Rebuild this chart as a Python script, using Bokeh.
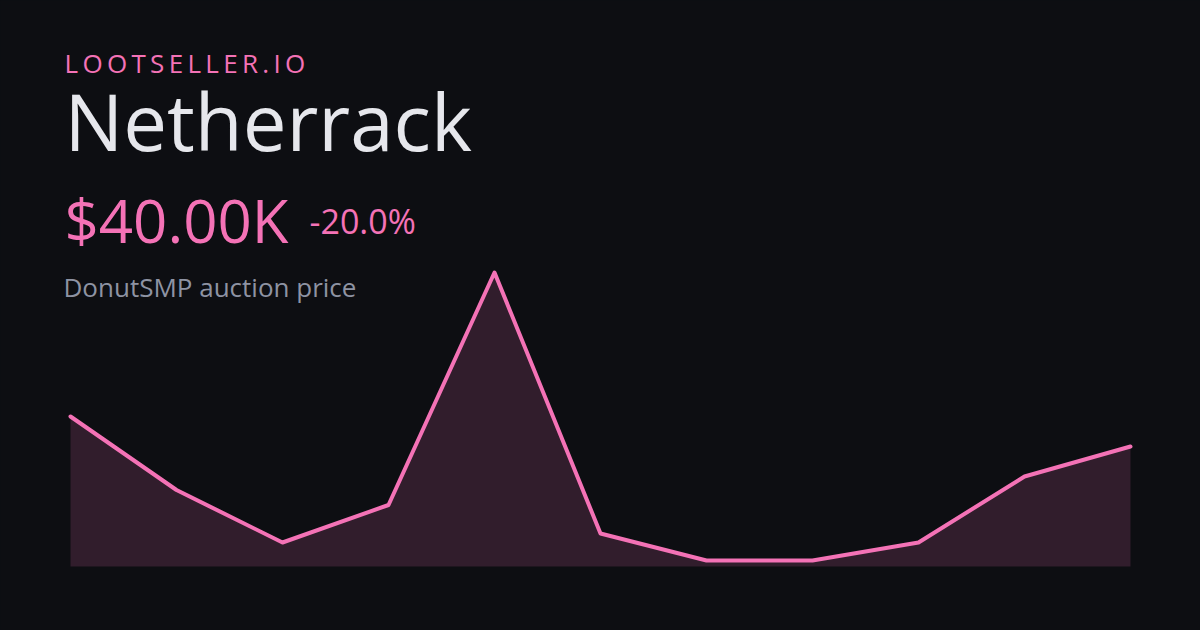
from bokeh.plotting import figure
from bokeh.models import Label
from bokeh.embed import file_html
from bokeh.resources import INLINE
from jinja2 import Template

# ---- data ----
brand = "LOOTSELLER.IO"
item = "Netherrack"
price_label = "$40.00K"
change_label = "-20.0%"
subtitle = "DonutSMP auction price"
points = list(range(11))
prices_k = [50, 25.5, 8, 20.5, 98, 11, 2, 2, 8, 30, 40]  # thousands of $

# ---- style ----
BG = "#0d0e12"
PINK = "#f472b6"
TITLE = "#e6e7ec"
MUTED = "#8e93a3"
FONT = "Open Sans"

W, H = 1200, 630
X0, DX = 70, 106   # page px of first point, px per step
Y0, KY = 566, 3.0  # page px of zero value, px per $1K

x_start = -X0 / DX
x_end = (W - X0) / DX
y_start = -(H - Y0) / KY
y_end = Y0 / KY

p = figure(width=W, height=H, output_backend="svg", toolbar_location=None,
           x_range=(x_start, x_end), y_range=(y_start, y_end),
           x_axis_location=None, y_axis_location=None, min_border=0)
p.grid.visible = False
p.outline_line_color = None
p.background_fill_color = BG
p.border_fill_color = BG

p.varea(x=points, y1=0, y2=prices_k, fill_color=PINK, fill_alpha=0.16)
p.line(points, prices_k, line_color=PINK, line_width=4, line_join="round", line_cap="round")


def add_label(text, px, py, size, color):
    # py: desired baseline in page px; shift compensates Bokeh's baseline placement
    yb = py - 0.4 * size
    p.add_layout(Label(x=px, y=H - yb, x_units="screen", y_units="screen",
                       text=text, text_font=FONT, text_font_size=f"{size}px",
                       text_color=color, text_baseline="alphabetic", text_align="left"))


add_label("\u2009".join(brand), 64, 73, 26, PINK)
add_label(item, 64, 152, 78, TITLE)
add_label(price_label, 64, 243, 60, PINK)
add_label(change_label, 309, 234, 34, PINK)
add_label(subtitle, 63, 297, 26, MUTED)

tmpl = Template("{% extends base %}{% block preamble %}<style>html,body{margin:0;background:" + BG + ";}</style>{% endblock %}")
open("out.html", "w").write(file_html(p, INLINE, template=tmpl))
